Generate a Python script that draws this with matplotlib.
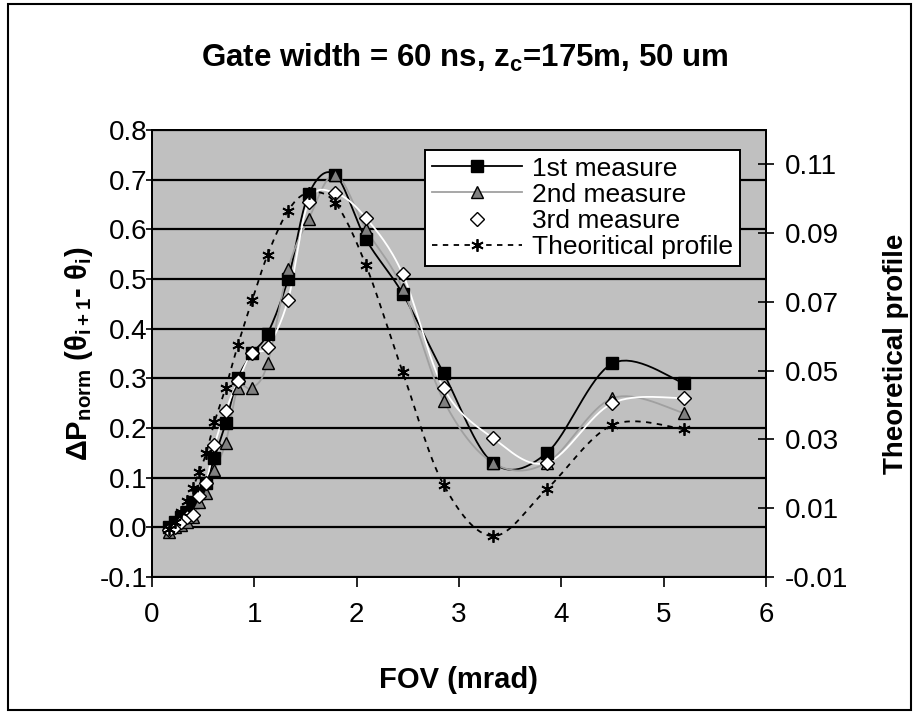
import numpy as np
import matplotlib
matplotlib.use("Agg")
import matplotlib.pyplot as plt
from matplotlib.lines import Line2D
from matplotlib.patches import Rectangle

plt.rcParams['font.family'] = ['Liberation Sans', 'DejaVu Sans']
plt.rcParams['mathtext.fontset'] = 'custom'
plt.rcParams['mathtext.rm'] = 'Liberation Sans'
plt.rcParams['mathtext.bf'] = 'Liberation Sans:bold'
plt.rcParams['axes.unicode_minus'] = False

# FOV (mrad) shared by every series
fov = [0.17, 0.22, 0.28, 0.34, 0.40, 0.46, 0.53, 0.61, 0.72, 0.84, 0.98,
       1.13, 1.33, 1.53, 1.79, 2.09, 2.45, 2.85, 3.33, 3.86, 4.50, 5.20]

measure1 = [0.00, 0.01, 0.02, 0.03, 0.05, 0.07, 0.09, 0.14, 0.21, 0.30, 0.35,
            0.39, 0.50, 0.67, 0.71, 0.58, 0.47, 0.31, 0.13, 0.15, 0.33, 0.29]
measure2 = [-0.01, 0.00, 0.005, 0.01, 0.02, 0.05, 0.07, 0.115, 0.17, 0.28, 0.28,
            0.33, 0.52, 0.62, 0.71, 0.60, 0.48, 0.255, 0.13, 0.13, 0.26, 0.23]
measure3 = [-0.005, 0.00, 0.01, 0.02, 0.025, 0.063, 0.09, 0.165, 0.234, 0.295, 0.351,
            0.363, 0.458, 0.655, 0.673, 0.623, 0.51, 0.28, 0.18, 0.13, 0.25, 0.26]
theory = [0.004, 0.006, 0.009, 0.012, 0.016, 0.0205, 0.026, 0.035, 0.045, 0.0575, 0.0706,
          0.0837, 0.0965, 0.1017, 0.0988, 0.0807, 0.0496, 0.0168, 0.0019, 0.0156, 0.0342, 0.033]

left_ticks = [-0.1, 0.0, 0.1, 0.2, 0.3, 0.4, 0.5, 0.6, 0.7, 0.8]
right_ticks = [-0.01, 0.01, 0.03, 0.05, 0.07, 0.09, 0.11]
x_ticks = [0, 1, 2, 3, 4, 5, 6]


def smooth(xs, ys, n=16):
    # bezier smoothing through the points (spreadsheet style smoothed line)
    x = np.asarray(xs, float)
    y = np.asarray(ys, float)
    px = np.concatenate([[x[0]], x, [x[-1]]])
    py = np.concatenate([[y[0]], y, [y[-1]]])
    ox, oy = [x[0]], [y[0]]
    t = np.linspace(0, 1, n + 1)[1:]
    for i in range(1, len(px) - 2):
        p0 = np.array([px[i], py[i]])
        p3 = np.array([px[i + 1], py[i + 1]])
        c1 = p0 + (np.array([px[i + 1], py[i + 1]]) - np.array([px[i - 1], py[i - 1]])) / 6
        c2 = p3 - (np.array([px[i + 2], py[i + 2]]) - np.array([px[i], py[i]])) / 6
        b = ((1 - t) ** 3)[:, None] * p0 + (3 * (1 - t) ** 2 * t)[:, None] * c1 \
            + (3 * (1 - t) * t ** 2)[:, None] * c2 + (t ** 3)[:, None] * p3
        ox.extend(b[:, 0])
        oy.extend(b[:, 1])
    return np.array(ox), np.array(oy)


fig = plt.figure(figsize=(9.19, 7.14), dpi=100)
ax = fig.add_axes([0.1654, 0.1919, 0.6681, 0.6262])
ax.set_facecolor('#c0c0c0')

star = (6, 2, 0)
styles = [
    (measure1, dict(color='black', lw=1.3), dict(marker='s', ms=8, mfc='black', mec='black')),
    (measure2, dict(color='#a0a0a0', lw=1.3), dict(marker='^', ms=8.5, mfc='#808080', mec='black', mew=1.0)),
    (measure3, dict(color='white', lw=1.3), dict(marker='D', ms=7.5, mfc='white', mec='black', mew=1.0)),
]
labels = ['1st measure', '2nd measure', '3rd measure', 'Theoritical profile']
handles = []
for ys, lstyle, mstyle in styles:
    sx, sy = smooth(fov, ys)
    ax.plot(sx, sy, zorder=3, **lstyle)
    ax.plot(fov, ys, ls='none', zorder=4, **mstyle)
    handles.append(Line2D([], [], **lstyle, **mstyle))

ax.set_xlim(0, 6)
ax.set_ylim(-0.1, 0.8)
ax.set_xticks(x_ticks)
ax.set_yticks(left_ticks)
ax.set_yticklabels(['%.1f' % v for v in left_ticks])
ax.grid(axis='y', color='black', lw=1.6)
ax.set_axisbelow(True)
for s in ax.spines.values():
    s.set_color('black')
    s.set_linewidth(1.4)
ax.tick_params(axis='y', direction='inout', length=8, width=1.2, labelsize=20, pad=-1)
ax.tick_params(axis='x', direction='out', length=7, width=1.2, labelsize=20, pad=11)
ax.set_xlabel('FOV (mrad)', fontsize=21, fontweight='bold')
ax.xaxis.set_label_coords(0.5, -0.2)
ax.set_ylabel(r'ΔP$_{\mathbf{norm}}$ (θ$_{\mathbf{i+1}}$- θ$_{\mathbf{i}}$)',
              fontsize=21, fontweight='bold')
ax.yaxis.set_label_coords(-0.093, 0.5)

ax2 = ax.twinx()
tx, ty = smooth(fov, theory)
tl = dict(color='black', lw=1.3, ls=(0, (3, 3)))
tm = dict(marker=star, ms=9, mfc='black', mec='black', mew=1.3)
ax2.plot(tx, ty, zorder=3, **tl)
ax2.plot(fov, theory, ls='none', zorder=4, **tm)
handles.append(Line2D([], [], **tl, **tm))
ax2.set_ylim(-0.01, 0.12)
ax2.set_yticks(right_ticks)
ax2.set_yticklabels(['%.2f' % v for v in right_ticks])
ax2.tick_params(axis='y', direction='inout', length=11, width=1.2, labelsize=20, pad=8)
ax2.set_ylabel('Theoretical profile', fontsize=20, fontweight='bold')
ax2.yaxis.set_label_coords(1.19, 0.5)
for s in ax2.spines.values():
    s.set_color('black')
    s.set_linewidth(1.4)

leg = ax2.legend(handles, labels, loc='upper left', bbox_to_anchor=(0.445, 0.955),
                 borderaxespad=0, fontsize=19, frameon=True, fancybox=False,
                 edgecolor='black', framealpha=1, labelspacing=0.08,
                 handlelength=3.4, handletextpad=0.4, borderpad=0.25)
leg.get_frame().set_linewidth(1.4)

fig.text(0.506, 1 - 58 / 714, 'Gate width = 60 ns, z$_{\\mathbf{c}}$=175m, 50 um',
         ha='center', va='center', fontsize=22.5, fontweight='bold')

fig.patches.append(Rectangle((0.009, 0.006), 0.982, 0.988, transform=fig.transFigure,
                             fill=False, edgecolor='black', lw=1.5))

fig.savefig('out.png', dpi=100)
